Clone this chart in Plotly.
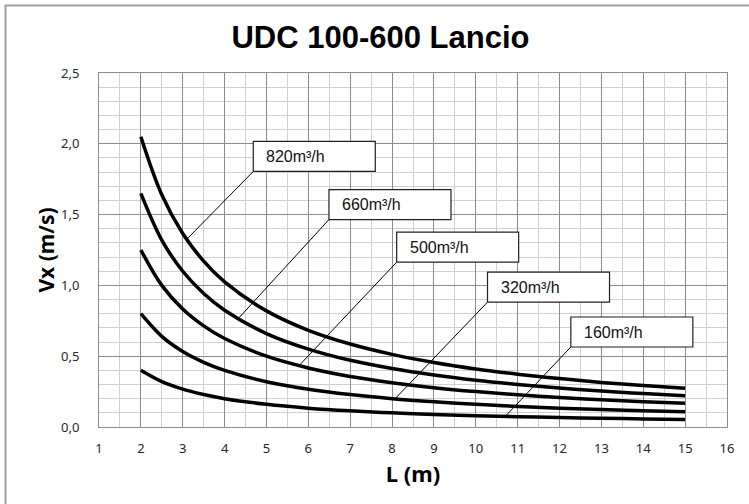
import plotly.graph_objects as go

# ---- data ----
L = [2, 2.5, 3, 3.5, 4, 5, 6, 7, 8, 9, 10, 11, 12, 13, 14, 15]
v_820 = [2.05, 1.64, 1.367, 1.171, 1.025, 0.82, 0.683, 0.586, 0.513, 0.456, 0.41, 0.373, 0.342, 0.315, 0.293, 0.273]
v_660 = [1.65, 1.32, 1.10, 0.943, 0.825, 0.66, 0.55, 0.471, 0.413, 0.367, 0.33, 0.30, 0.275, 0.254, 0.236, 0.22]
v_500 = [1.25, 1.00, 0.833, 0.714, 0.625, 0.50, 0.417, 0.357, 0.313, 0.278, 0.25, 0.227, 0.208, 0.192, 0.179, 0.167]
v_320 = [0.80, 0.64, 0.533, 0.457, 0.40, 0.32, 0.267, 0.229, 0.20, 0.178, 0.16, 0.145, 0.133, 0.123, 0.114, 0.107]
v_160 = [0.40, 0.32, 0.267, 0.229, 0.20, 0.16, 0.133, 0.114, 0.10, 0.089, 0.08, 0.073, 0.067, 0.062, 0.057, 0.053]
series_names = ["820m³/h", "660m³/h", "500m³/h", "320m³/h", "160m³/h"]
series_values = [v_820, v_660, v_500, v_320, v_160]

title_text = "UDC 100-600 Lancio"
x_title = "L (m)"
y_title = "Vx (m/s)"

# label placement (box bottom-left corner and leader tip, in data units)
label_corner_x = [4.685, 6.493, 8.11, 10.28, 12.27]
label_corner_y = [1.805, 1.465, 1.164, 0.882, 0.565]
label_tip_x = [3.11, 4.34, 5.80, 8.09, 10.72]
label_tip_y = [1.33, 0.77, 0.44, 0.205, 0.08]

fig = go.Figure()
for name, vals in zip(series_names, series_values):
    fig.add_trace(go.Scatter(x=L, y=vals, mode="lines", name=name,
                             line=dict(color="black", width=3.5, shape="spline", smoothing=1.0),
                             showlegend=False, hoverinfo="x+y"))

shapes = []
annotations = []
for name, cx, cy, tx, ty in zip(series_names, label_corner_x, label_corner_y, label_tip_x, label_tip_y):
    shapes.append(dict(type="line", xref="x", yref="y", x0=tx, y0=ty, x1=cx, y1=cy,
                       line=dict(color="black", width=1), layer="above"))
    shapes.append(dict(type="rect", xref="x", yref="y", xsizemode="pixel", ysizemode="pixel",
                       xanchor=cx, yanchor=cy, x0=0, x1=122, y0=0, y1=30,
                       fillcolor="white", line=dict(color="#202020", width=1.2), layer="above"))
    annotations.append(dict(x=cx, y=cy, xref="x", yref="y", text=name, showarrow=False,
                            xanchor="left", yanchor="middle", xshift=11, yshift=15,
                            font=dict(family="Liberation Sans, Arial", size=16, color="#111111")))

ML, MR, MT, MB = 99, 22, 73, 77
PW, PH = 749 - ML - MR, 504 - MT - MB

# outer chart border (cropped on right/bottom)
shapes.append(dict(type="rect", xref="paper", yref="paper",
                   x0=(5.5 - ML) / PW, x1=1.3, y0=-0.5, y1=(MT - 5.5) / PH + 1,
                   line=dict(color="#a0a0a0", width=2), fillcolor="rgba(0,0,0,0)", layer="below"))

fig.update_layout(
    width=749, height=504,
    margin=dict(l=ML, r=MR, t=MT, b=MB),
    paper_bgcolor="white", plot_bgcolor="white",
    separators=",.",
    title=dict(text="<b>" + title_text + "</b>", x=380.5 / 749, xanchor="center",
               y=1 - 37.5 / 504, yanchor="middle",
               font=dict(family="Liberation Sans, Arial", size=31, color="black")),
    shapes=shapes, annotations=annotations,
)

fig.update_xaxes(range=[1, 16], dtick=1, tick0=1, showgrid=True, gridcolor="#8c8c8c", gridwidth=1,
                 minor=dict(dtick=0.5, showgrid=True, gridcolor="#d0d0d0", gridwidth=1),
                 showline=True, linecolor="#8c8c8c", linewidth=1, mirror=True, zeroline=False,
                 ticks="", ticklabelstandoff=9,
                 tickfont=dict(family="Noto Sans", size=13, color="#262626"),
                 title=dict(text="<b>" + x_title + "</b>", standoff=11,
                            font=dict(family="Noto Sans", size=22, color="black")))
fig.update_yaxes(range=[0, 2.5], dtick=0.5, tickformat=".1f", showgrid=True, gridcolor="#8c8c8c", gridwidth=1,
                 minor=dict(dtick=0.1, showgrid=True, gridcolor="#d0d0d0", gridwidth=1),
                 showline=True, linecolor="#8c8c8c", linewidth=1, mirror=True, zeroline=False,
                 ticks="", ticklabelstandoff=16,
                 tickfont=dict(family="Noto Sans", size=13, color="#262626"),
                 title=dict(text="<b>" + y_title + "</b>", standoff=0,
                            font=dict(family="Noto Sans", size=21, color="black")))

fig.write_html("out.html", config={"displayModeBar": False},
               post_script="document.body.style.margin='0';")
